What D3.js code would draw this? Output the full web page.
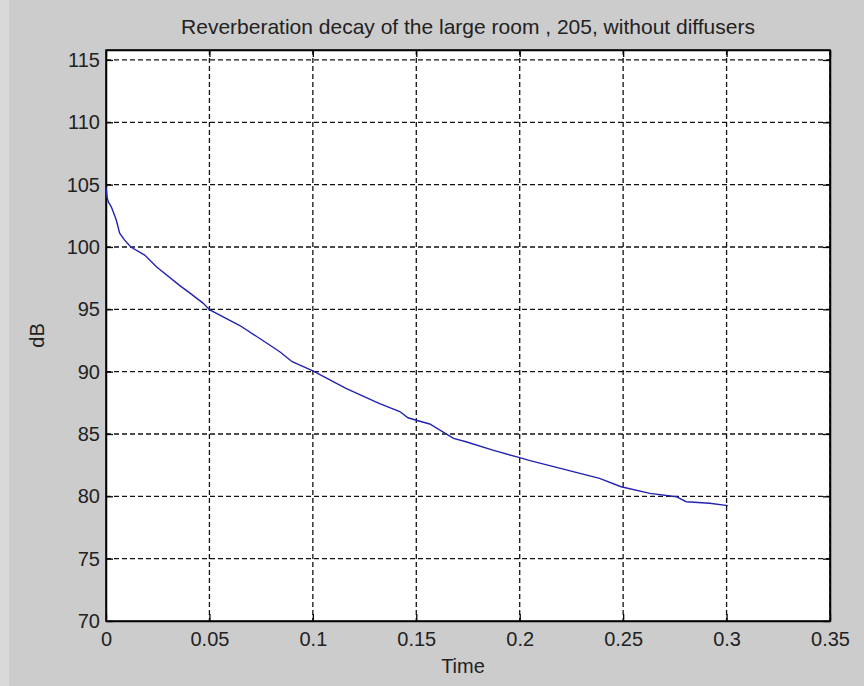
<!DOCTYPE html>
<html>
<head>
<meta charset="utf-8">
<script src="https://cdn.jsdelivr.net/npm/d3@7"></script>
<style>
  body { margin: 0; background: #cccccc; }
  text { font-family: "Liberation Sans", Arial, sans-serif; fill: #222; }
</style>
</head>
<body>
<div id="chart"></div>
<script>
// decay curve
var times = [0, 0.0005, 0.0012, 0.0026, 0.0049, 0.0066, 0.009, 0.012, 0.0187, 0.0245,
  0.0357, 0.0406, 0.0469, 0.0502, 0.0647, 0.0758, 0.084, 0.09, 0.1, 0.116,
  0.132, 0.142, 0.146, 0.15, 0.1565, 0.168, 0.174, 0.187, 0.2, 0.205,
  0.2386, 0.249, 0.263, 0.2757, 0.2805, 0.2918, 0.3006];
var levels = [104.8, 104.0, 103.6, 103.2, 102.2, 101.1, 100.55, 100.0, 99.35, 98.4,
  96.9, 96.3, 95.5, 94.95, 93.7, 92.5, 91.6, 90.8, 90.07, 88.66,
  87.46, 86.8, 86.3, 86.1, 85.8, 84.65, 84.38, 83.7, 83.1, 82.86,
  81.44, 80.77, 80.24, 79.97, 79.57, 79.44, 79.25];
var xTicks = [0, 0.05, 0.1, 0.15, 0.2, 0.25, 0.3, 0.35];
var yTicks = [70, 75, 80, 85, 90, 95, 100, 105, 110, 115];

var w = 864, h = 686;
var pLeft = 106, pRight = 830, pTop = 50, pBottom = 621;

var svg = d3.select("#chart").append("svg")
  .attr("width", w)
  .attr("height", h);

svg.append("rect").attr("width", w).attr("height", h).attr("fill", "#cccccc");
svg.append("rect").attr("width", 9).attr("height", h).attr("fill", "#d9d9d9");

var xScale = d3.scaleLinear().domain([0, 0.35]).range([pLeft, pRight]);
var yScale = d3.scaleLinear().domain([70, 115.8]).range([pBottom, pTop]);

svg.append("rect")
  .attr("x", pLeft).attr("y", pTop)
  .attr("width", pRight - pLeft).attr("height", pBottom - pTop)
  .attr("fill", "#ffffff");

// grid
svg.append("g").selectAll("line")
  .data(xTicks.slice(1))
  .enter().append("line")
  .attr("x1", function(d) { return xScale(d); })
  .attr("x2", function(d) { return xScale(d); })
  .attr("y1", pTop).attr("y2", pBottom)
  .attr("stroke", "#111").attr("stroke-width", 1.3)
  .attr("stroke-dasharray", "5,3");

svg.append("g").selectAll("line")
  .data(yTicks.slice(1))
  .enter().append("line")
  .attr("y1", function(d) { return yScale(d); })
  .attr("y2", function(d) { return yScale(d); })
  .attr("x1", pLeft).attr("x2", pRight)
  .attr("stroke", "#111").attr("stroke-width", 1.3)
  .attr("stroke-dasharray", "5,3");

// axes, ticks pointing inward
var xAxis = d3.axisBottom(xScale).tickValues(xTicks)
  .tickSizeInner(-7).tickSizeOuter(0).tickPadding(11)
  .tickFormat(function(d) { return d3.format("~g")(d); });
var yAxis = d3.axisLeft(yScale).tickValues(yTicks)
  .tickSizeInner(-7).tickSizeOuter(0).tickPadding(6);

var gx = svg.append("g")
  .attr("transform", "translate(0," + pBottom + ")")
  .call(xAxis);
var gy = svg.append("g")
  .attr("transform", "translate(" + pLeft + ",0)")
  .call(yAxis);
svg.append("g")
  .attr("transform", "translate(0," + pTop + ")")
  .call(d3.axisTop(xScale).tickValues(xTicks).tickSizeInner(-7).tickSizeOuter(0).tickFormat(""));
svg.append("g")
  .attr("transform", "translate(" + pRight + ",0)")
  .call(d3.axisRight(yScale).tickValues(yTicks).tickSizeInner(-7).tickSizeOuter(0).tickFormat(""));

svg.selectAll(".domain").attr("stroke", "#000").attr("stroke-width", 1.5);
svg.selectAll(".tick line").attr("stroke", "#000").attr("stroke-width", 1.3);
svg.selectAll(".tick text")
  .attr("font-family", null)
  .attr("fill", "#222")
  .style("font-size", "20px");

// frame
svg.append("rect")
  .attr("x", pLeft).attr("y", pTop)
  .attr("width", pRight - pLeft).attr("height", pBottom - pTop)
  .attr("fill", "none").attr("stroke", "#000").attr("stroke-width", 1.5);

// the curve
var pts = times.map(function(t, i) { return [t, levels[i]]; });
var line = d3.line()
  .x(function(d) { return xScale(d[0]); })
  .y(function(d) { return yScale(d[1]); });

svg.append("path")
  .datum(pts)
  .attr("d", line)
  .attr("fill", "none")
  .attr("stroke", "#2222b0")
  .attr("stroke-width", 1.4);

// labels
svg.append("text")
  .attr("x", (pLeft + pRight) / 2).attr("y", 34)
  .attr("text-anchor", "middle")
  .style("font-size", "21px")
  .text("Reverberation decay of the large room , 205, without diffusers");

svg.append("text")
  .attr("x", 463).attr("y", 673)
  .attr("text-anchor", "middle")
  .style("font-size", "20px")
  .text("Time");

svg.append("text")
  .attr("transform", "translate(44," + (pTop + pBottom) / 2 + ") rotate(-90)")
  .attr("text-anchor", "middle")
  .style("font-size", "20px")
  .text("dB");
</script>
</body>
</html>
